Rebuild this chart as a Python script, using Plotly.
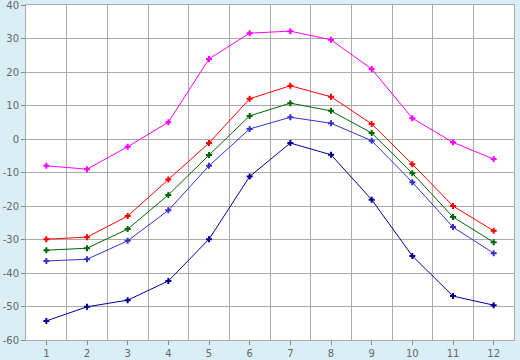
import plotly.graph_objects as go

months = list(range(1, 13))
tick_labels = [str(m) for m in months]
y_ticks = [-60, -50, -40, -30, -20, -10, 0, 10, 20, 30, 40]
y_tick_labels = ["-60", "-50", "-40", "-30", "-20", "-10", "0", "10", "20", "30", "40"]
magenta = [-8.0, -9.0, -2.3, 5.0, 23.9, 31.6, 32.2, 29.6, 20.9, 6.2, -1.0, -6.0]
red = [-29.9, -29.3, -23.0, -12.1, -1.2, 12.0, 15.9, 12.6, 4.5, -7.5, -20.0, -27.4]
green = [-33.2, -32.6, -26.9, -16.7, -4.8, 6.9, 10.7, 8.4, 1.8, -10.2, -23.3, -30.8]
blue = [-36.4, -35.9, -30.4, -21.3, -8.0, 3.0, 6.5, 4.7, -0.5, -12.9, -26.3, -34.1]
navy = [-54.3, -50.1, -48.1, -42.4, -29.9, -11.2, -1.2, -4.7, -18.1, -34.9, -46.9, -49.6]

series = [
    ("s1", magenta, "#ff00ff"),
    ("s2", red, "#ff0000"),
    ("s3", green, "#006600"),
    ("s4", blue, "#3333cc"),
    ("s5", navy, "#000099"),
]

fig = go.Figure()
for name, vals, col in series:
    fig.add_trace(go.Scatter(
        x=months, y=vals, mode="lines+markers", name=name,
        line=dict(color=col, width=1),
        marker=dict(symbol="cross", size=5, color=col, line=dict(width=0)),
    ))

fig.update_layout(
    width=520, height=360,
    autosize=False,
    margin=dict(l=26, r=6, t=5, b=20, pad=0, autoexpand=False),
    paper_bgcolor="#daeef5",
    plot_bgcolor="#ffffff",
    showlegend=False,
    font=dict(family="DejaVu Sans", size=10, color="#666666"),
)
fig.update_xaxes(
    range=[0.5, 12.5], tickvals=months, ticktext=tick_labels,
    showgrid=False, zeroline=False, automargin=False,
    ticks="outside", ticklen=4, tickcolor="#888888",
    showline=True, linecolor="#aaaaaa", mirror=True,
    minor=dict(tick0=0.5, dtick=1, showgrid=True, gridcolor="#aaaaaa", gridwidth=1, ticklen=0),
    ticklabeloverflow="allow",
    fixedrange=True,
)
fig.update_yaxes(
    range=[-60, 40], tickvals=y_ticks, ticktext=y_tick_labels, automargin=False,
    showgrid=True, gridcolor="#aaaaaa", gridwidth=1, zeroline=False,
    ticks="outside", ticklen=4, tickcolor="#888888",
    showline=True, linecolor="#aaaaaa", mirror=True,
    ticklabeloverflow="allow",
    fixedrange=True,
)
fig.write_html(
    "out.html",
    config={"displayModeBar": False},
    post_script="document.body.style.margin='0';document.body.style.padding='0';document.body.style.overflow='hidden';",
)
